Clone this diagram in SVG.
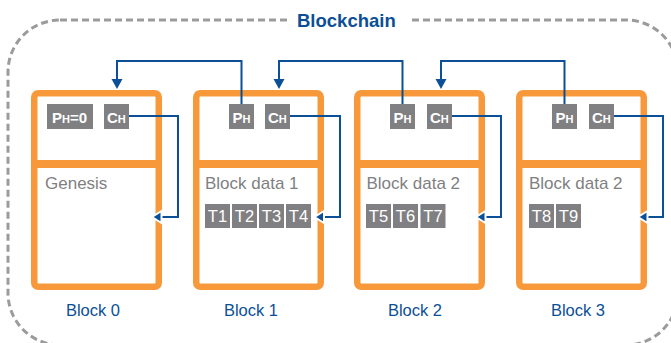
<svg xmlns="http://www.w3.org/2000/svg" width="671" height="343" viewBox="0 0 671 343">
<style>
.frame{fill:none;stroke:#9b9b9d;stroke-width:3;stroke-dasharray:7 4}
.blk{fill:#fff;stroke:#f7993b;stroke-width:6.5}
.div{fill:#f7993b}
.gbox{fill:#808083}
.hd{font-family:"Liberation Sans",Arial,sans-serif;font-weight:bold;fill:#fff;font-size:15px}
.sm{font-size:11px}
.dt{font-family:"Liberation Sans",Arial,sans-serif;fill:#7f7f82;font-size:17px}
.tx{font-family:"Liberation Sans",Arial,sans-serif;fill:#fff;font-size:16.5px;text-anchor:middle}
.lbl{font-family:"Liberation Sans",Arial,sans-serif;fill:#0b4f96;font-size:16.5px;text-anchor:middle}
.ttl{font-family:"Liberation Sans",Arial,sans-serif;fill:#0b4f96;font-size:18.5px;font-weight:bold}
.ln{fill:none;stroke:#0b4f96;stroke-width:2}
.ah{fill:#0b4f96}
.ahw{fill:#0b4f96;stroke:#fff;stroke-width:2;stroke-linejoin:miter}
</style>
<rect class="frame" x="8" y="20" width="670" height="325" rx="52"/>
<rect x="287" y="8" width="122" height="24" fill="#fff"/>
<text class="ttl" x="297" y="26.5">Blockchain</text>

<g id="block0">
<rect class="blk" x="34.25" y="93.25" width="124.5" height="193.5" rx="4"/>
<rect class="div" x="31" y="160" width="131" height="8"/>
<rect class="gbox" x="47" y="104" width="46" height="25"/>
<text class="hd" x="52" y="122.5">P<tspan class="sm">H</tspan>=0</text>
<rect class="gbox" x="104" y="104" width="25" height="25"/>
<text class="hd" x="107" y="122.5">C<tspan class="sm">H</tspan></text>
<text class="dt" x="45" y="188.5">Genesis</text>
<text class="lbl" x="93" y="316">Block 0</text>
</g>

<g id="block1">
<rect class="blk" x="196.25" y="93.25" width="124.5" height="193.5" rx="4"/>
<rect class="div" x="193" y="160" width="131" height="8"/>
<rect class="gbox" x="229" y="104" width="25" height="25"/>
<text class="hd" x="232.5" y="122.5">P<tspan class="sm">H</tspan></text>
<rect class="gbox" x="265" y="104" width="25" height="25"/>
<text class="hd" x="268" y="122.5">C<tspan class="sm">H</tspan></text>
<text class="dt" x="205" y="188.5">Block data 1</text>
<rect class="gbox" x="205" y="204" width="25" height="24"/>
<rect class="gbox" x="232" y="204" width="25" height="24"/>
<rect class="gbox" x="259" y="204" width="25" height="24"/>
<rect class="gbox" x="286" y="204" width="25" height="24"/>
<text class="tx" x="217.5" y="222">T1</text>
<text class="tx" x="244.5" y="222">T2</text>
<text class="tx" x="271.5" y="222">T3</text>
<text class="tx" x="298.5" y="222">T4</text>
<text class="lbl" x="251" y="316">Block 1</text>
</g>

<g id="block2">
<rect class="blk" x="357.25" y="93.25" width="124.5" height="193.5" rx="4"/>
<rect class="div" x="354" y="160" width="131" height="8"/>
<rect class="gbox" x="390" y="104" width="25" height="25"/>
<text class="hd" x="393.5" y="122.5">P<tspan class="sm">H</tspan></text>
<rect class="gbox" x="427" y="104" width="25" height="25"/>
<text class="hd" x="430" y="122.5">C<tspan class="sm">H</tspan></text>
<text class="dt" x="366.5" y="188.5">Block data 2</text>
<rect class="gbox" x="366" y="204" width="25" height="24"/>
<rect class="gbox" x="393" y="204" width="25" height="24"/>
<rect class="gbox" x="420.5" y="204" width="25" height="24"/>
<text class="tx" x="378.5" y="222">T5</text>
<text class="tx" x="405.5" y="222">T6</text>
<text class="tx" x="433" y="222">T7</text>
<text class="lbl" x="415" y="316">Block 2</text>
</g>

<g id="block3">
<rect class="blk" x="519.25" y="93.25" width="124.5" height="193.5" rx="4"/>
<rect class="div" x="516" y="160" width="131" height="8"/>
<rect class="gbox" x="552" y="104" width="25" height="25"/>
<text class="hd" x="555.5" y="122.5">P<tspan class="sm">H</tspan></text>
<rect class="gbox" x="589" y="104" width="25" height="25"/>
<text class="hd" x="592" y="122.5">C<tspan class="sm">H</tspan></text>
<text class="dt" x="529" y="188.5">Block data 2</text>
<rect class="gbox" x="529" y="204" width="25" height="24"/>
<rect class="gbox" x="556" y="204" width="25" height="24"/>
<text class="tx" x="541.5" y="222">T8</text>
<text class="tx" x="568.5" y="222">T9</text>
<text class="lbl" x="578" y="316">Block 3</text>
</g>

<g id="connectors">
<!-- previous-hash links -->
<polyline class="ln" points="241.5,104 241.5,61 117,61 117,80"/>
<polygon class="ah" points="111.5,79 122.5,79 117,89"/>
<polyline class="ln" points="402.5,104 402.5,61 279,61 279,80"/>
<polygon class="ah" points="273.5,79 284.5,79 279,89"/>
<polyline class="ln" points="564.5,104 564.5,61 441,61 441,80"/>
<polygon class="ah" points="435.5,79 446.5,79 441,89"/>
<!-- current-hash links -->
<polyline class="ln" points="129,116 178,116 178,217 160,217"/>
<polygon class="ahw" points="152,217 161.5,211 161.5,223"/>
<polyline class="ln" points="290,116 340,116 340,217 322,217"/>
<polygon class="ahw" points="314.5,217 324,211 324,223"/>
<polyline class="ln" points="452,116 501,116 501,217 484,217"/>
<polygon class="ahw" points="476,217 485.5,211 485.5,223"/>
<polyline class="ln" points="614,116 663,116 663,217 646,217"/>
<polygon class="ahw" points="638,217 647.5,211 647.5,223"/>
</g>
</svg>
